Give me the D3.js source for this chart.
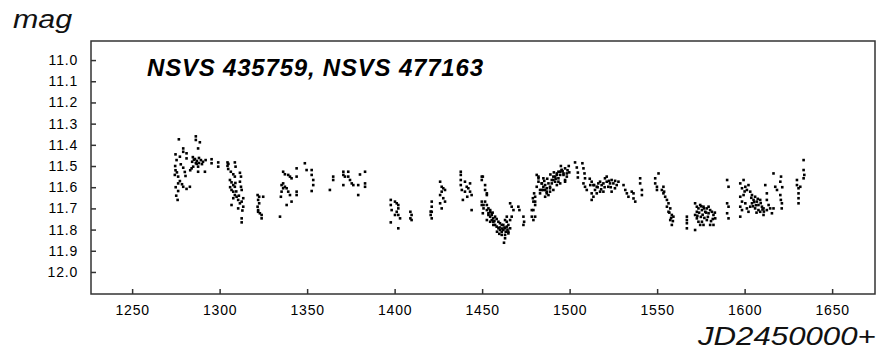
<!DOCTYPE html>
<html>
<head>
<meta charset="utf-8">
<script src="https://cdn.jsdelivr.net/npm/d3@7"></script>
<style>
	body { margin: 0; background: #fff; }
	svg { display: block; font-family: "Liberation Sans", Arial, sans-serif; }
</style>
</head>
<body>
<svg id="chart" width="883" height="356"></svg>
<script>

var title = "NSVS 435759, NSVS 477163";
var xLabel = "JD2450000+";
var yLabel = "mag";
var xTicks = [1250, 1300, 1350, 1400, 1450, 1500, 1550, 1600, 1650];
var yTicks = [11.0, 11.1, 11.2, 11.3, 11.4, 11.5, 11.6, 11.7, 11.8, 11.9, 12.0];

// [JD - 2450000, magnitude]
var obs = [
	[1276.7,11.374],[1286.4,11.360],[1286.4,11.377],[1288.7,11.388],[1279.2,11.417],[1279.2,11.433],[1287.7,11.417],
	[1274.8,11.445],[1277.3,11.456],[1275.4,11.472],[1281.1,11.440],[1281.1,11.464],[1284.7,11.458],[1285.9,11.467],
	[1287.0,11.476],[1288.2,11.486],[1289.3,11.472],[1286.4,11.486],[1288.2,11.462],[1289.9,11.491],[1292.0,11.472],
	[1295.4,11.468],[1295.4,11.487],[1299.2,11.483],[1299.2,11.503],[1277.8,11.492],[1279.2,11.508],[1280.1,11.528],
	[1280.5,11.547],[1274.4,11.542],[1276.3,11.550],[1277.3,11.571],[1276.3,11.582],[1278.5,11.586],[1279.2,11.598],
	[1281.1,11.608],[1283.0,11.598],[1276.3,11.618],[1276.0,11.660],[1284.0,11.511],[1284.9,11.503],[1287.7,11.503],
	[1287.7,11.527],[1291.6,11.527],[1274.6,11.500],[1274.8,11.520],[1275.6,11.530],[1285.3,11.470],[1286.9,11.490],
	[1284.3,11.480],[1290.5,11.480],[1283.2,11.520],[1274.9,11.600],[1275.2,11.640],

	[1304.5,11.483],[1304.5,11.499],[1304.9,11.514],[1306.4,11.527],[1307.8,11.539],[1308.7,11.550],[1308.7,11.483],
	[1309.1,11.503],[1311.6,11.532],[1312.2,11.550],[1305.9,11.566],[1306.8,11.577],[1307.8,11.590],[1308.7,11.598],
	[1311.6,11.574],[1312.2,11.598],[1312.6,11.613],[1306.8,11.613],[1307.8,11.621],[1308.7,11.637],[1307.8,11.652],
	[1309.7,11.645],[1310.6,11.660],[1311.6,11.676],[1312.6,11.668],[1313.5,11.692],[1310.6,11.700],[1312.6,11.747],
	[1312.6,11.766],[1306.8,11.684],[1313.5,11.652],[1305.0,11.490],[1306.0,11.600],[1309.5,11.620],[1311.0,11.640],
	[1313.0,11.710],[1309.0,11.580],

	[1321.7,11.637],[1322.6,11.645],[1324.9,11.645],[1322.0,11.660],[1322.6,11.676],[1321.7,11.692],[1322.0,11.708],
	[1323.0,11.723],[1324.0,11.731],[1324.0,11.747],[1322.0,11.716],

	[1336.3,11.527],[1337.3,11.539],[1339.2,11.542],[1340.2,11.550],[1341.1,11.558],[1344.0,11.511],[1344.0,11.550],
	[1335.4,11.590],[1336.3,11.605],[1337.3,11.598],[1338.3,11.605],[1339.2,11.621],[1340.2,11.637],[1341.1,11.668],
	[1335.4,11.621],[1335.0,11.645],[1338.3,11.684],[1334.5,11.739],[1344.0,11.621],[1344.0,11.637],[1336.3,11.582],
	[1348.7,11.487],[1349.7,11.519],[1352.6,11.519],[1352.6,11.542],[1353.5,11.566],[1353.5,11.590],[1352.6,11.618],

	[1364.9,11.550],[1364.9,11.566],[1363.0,11.613],[1370.7,11.527],[1370.7,11.542],[1370.7,11.590],[1373.5,11.527],
	[1373.5,11.550],[1374.5,11.566],[1375.5,11.582],[1376.4,11.590],[1379.2,11.590],[1379.2,11.637],[1383.1,11.527],
	[1383.1,11.582],[1383.1,11.598],[1371.6,11.550],[1380.2,11.540],

	[1397.8,11.660],[1397.8,11.684],[1398.3,11.708],[1397.8,11.766],[1400.2,11.668],[1401.2,11.676],[1402.1,11.684],
	[1402.1,11.700],[1401.2,11.716],[1402.1,11.731],[1403.1,11.747],[1402.1,11.794],[1400.2,11.731],[1409.0,11.716],
	[1409.7,11.731],[1409.7,11.755],[1409.0,11.747],

	[1420.6,11.715],[1421.2,11.668],[1421.2,11.692],[1421.2,11.716],[1420.6,11.731],[1421.2,11.747],[1426.0,11.574],
	[1426.9,11.598],[1427.8,11.605],[1428.8,11.613],[1426.9,11.621],[1426.0,11.637],[1427.8,11.652],[1428.8,11.668],
	[1426.0,11.676],[1426.9,11.700],

	[1437.8,11.527],[1437.8,11.542],[1437.8,11.566],[1437.8,11.590],[1438.4,11.613],[1439.0,11.660],[1440.2,11.574],
	[1441.2,11.598],[1442.1,11.605],[1443.1,11.621],[1444.0,11.637],[1441.5,11.645],[1443.1,11.582],[1444.0,11.708],
	[1440.2,11.621],

	[1450.4,11.550],[1451.7,11.590],[1451.7,11.613],[1452.7,11.637],[1449.8,11.684],[1450.8,11.700],[1450.4,11.723],
	[1451.7,11.668],[1452.7,11.684],[1453.6,11.700],[1454.6,11.716],[1455.5,11.731],[1456.4,11.747],[1456.4,11.778],
	[1454.6,11.763],[1452.7,11.755],[1453.6,11.731],[1449.8,11.550],[1449.8,11.566],[1452.7,11.629],[1449.8,11.668],
	[1450.8,11.684],[1452.7,11.708],[1453.6,11.723],[1454.6,11.739],[1455.5,11.755],[1456.4,11.763],[1457.4,11.778],
	[1458.3,11.786],[1459.3,11.794],[1460.2,11.802],[1461.2,11.810],[1462.1,11.802],[1463.1,11.794],[1464.1,11.786],
	[1465.0,11.778],[1466.0,11.755],[1466.9,11.739],[1466.0,11.676],[1466.9,11.692],[1467.9,11.708],[1464.1,11.739],
	[1463.1,11.755],[1465.0,11.810],[1463.1,11.825],[1462.5,11.862],[1461.2,11.778],[1459.3,11.763],[1457.4,11.739],
	[1455.5,11.723],[1454.6,11.708],[1460.2,11.770],[1462.1,11.778],[1464.1,11.763],[1466.0,11.794],[1465.0,11.818],
	[1463.1,11.841],[1461.2,11.825],[1458.3,11.750],[1460.0,11.790],[1461.5,11.795],[1463.5,11.810],[1464.5,11.800],
	[1462.8,11.790],[1459.8,11.820],[1457.0,11.760],[1456.0,11.720],[1458.5,11.810],[1470.7,11.692],[1471.3,11.708],
	[1473.6,11.739],[1474.0,11.763],[1473.6,11.778],

	[1478.4,11.708],[1478.4,11.739],[1479.3,11.755],[1479.0,11.652],[1479.7,11.629],[1480.3,11.668],[1481.2,11.598],
	[1482.2,11.574],[1482.2,11.550],[1483.1,11.613],[1484.1,11.582],[1485.0,11.558],[1486.0,11.590],[1486.9,11.605],
	[1487.9,11.582],[1488.8,11.598],[1489.8,11.566],[1490.7,11.550],[1491.7,11.574],[1492.7,11.542],[1493.6,11.558],
	[1494.6,11.527],[1495.5,11.519],[1496.5,11.542],[1497.4,11.511],[1498.4,11.535],[1497.4,11.566],[1493.6,11.574],
	[1490.7,11.613],[1486.9,11.621],[1485.0,11.613],[1488.8,11.621],[1479.3,11.668],[1480.3,11.684],[1479.3,11.708],
	[1480.3,11.739],[1480.3,11.645],[1483.1,11.629],[1484.1,11.613],[1481.2,11.542],[1482.2,11.558],[1484.1,11.582],
	[1485.0,11.598],[1486.0,11.613],[1486.9,11.629],[1487.9,11.637],[1486.0,11.645],[1488.8,11.605],[1489.8,11.582],
	[1490.7,11.566],[1491.7,11.550],[1492.7,11.535],[1493.6,11.527],[1494.6,11.542],[1495.5,11.519],[1496.5,11.535],
	[1497.4,11.574],[1498.4,11.550],[1494.6,11.582],[1492.7,11.590],[1485.5,11.570],[1487.2,11.560],[1489.0,11.540],
	[1491.0,11.530],[1492.0,11.560],[1495.0,11.500],[1496.0,11.525],[1498.8,11.520],[1499.5,11.500],[1499.8,11.530],

	[1503.1,11.483],[1504.1,11.507],[1504.7,11.531],[1504.7,11.554],[1507.3,11.487],[1507.9,11.511],[1508.5,11.535],
	[1508.8,11.558],[1507.9,11.582],[1508.8,11.598],[1509.8,11.613],

	[1512.6,11.574],[1513.6,11.590],[1514.5,11.613],[1515.5,11.598],[1516.4,11.582],[1517.4,11.574],[1518.3,11.590],
	[1519.3,11.582],[1520.2,11.558],[1521.2,11.550],[1521.2,11.574],[1522.1,11.598],[1523.1,11.582],[1524.0,11.566],
	[1525.0,11.582],[1525.9,11.605],[1526.9,11.590],[1527.9,11.574],[1512.6,11.629],[1512.6,11.660],[1515.5,11.629],
	[1517.4,11.621],[1519.3,11.621],[1524.0,11.621],[1513.6,11.645],[1514.0,11.590],[1516.0,11.600],[1518.0,11.610],
	[1520.0,11.600],[1522.5,11.570],[1523.5,11.600],[1526.0,11.570],[1511.5,11.560],[1511.8,11.590],
	[1530.8,11.590],[1531.8,11.613],[1532.7,11.629],[1533.6,11.645],[1535.5,11.621],[1536.5,11.629],[1536.5,11.653],
	[1537.5,11.668],[1540.3,11.558],[1540.3,11.582],[1541.3,11.613],[1541.3,11.637],[1548.9,11.558],[1548.9,11.582],
	[1549.9,11.613],[1549.9,11.598],[1550.8,11.535],

	[1552.7,11.613],[1553.6,11.629],[1554.6,11.645],[1555.6,11.660],[1556.5,11.676],[1555.6,11.692],[1557.5,11.700],
	[1556.5,11.716],[1558.4,11.731],[1559.3,11.739],[1557.5,11.755],[1558.4,11.778],[1553.6,11.598],[1554.0,11.621],
	[1557.0,11.720],[1559.0,11.760],[1558.0,11.745],[1567.0,11.739],[1567.0,11.755],[1567.0,11.770],[1567.0,11.794],

	[1571.7,11.676],[1572.7,11.692],[1573.6,11.700],[1574.6,11.684],[1575.6,11.708],[1576.5,11.692],[1577.5,11.716],
	[1578.4,11.700],[1579.4,11.723],[1580.3,11.708],[1581.3,11.716],[1582.2,11.731],[1583.2,11.747],[1571.7,11.731],
	[1572.7,11.747],[1573.6,11.763],[1574.6,11.778],[1576.5,11.778],[1578.4,11.755],[1580.3,11.778],[1582.2,11.778],
	[1571.7,11.802],[1575.6,11.763],[1579.4,11.692],[1572.7,11.716],[1574.0,11.720],[1575.0,11.740],[1576.0,11.730],
	[1577.0,11.745],[1578.0,11.720],[1579.0,11.740],[1580.8,11.760],[1573.0,11.735],[1576.8,11.700],[1581.8,11.750],
	[1583.0,11.720],[1575.2,11.690],

	[1590.0,11.566],[1590.8,11.598],[1590.0,11.676],[1590.8,11.692],[1590.0,11.723],[1590.8,11.747],

	[1597.5,11.582],[1598.5,11.605],[1599.4,11.566],[1600.4,11.598],[1601.3,11.613],[1602.2,11.590],[1603.2,11.621],
	[1604.2,11.637],[1605.1,11.660],[1606.0,11.645],[1607.0,11.668],[1607.9,11.684],[1608.9,11.660],[1609.9,11.692],
	[1610.8,11.700],[1599.4,11.637],[1597.5,11.645],[1598.5,11.668],[1597.5,11.692],[1598.5,11.708],[1597.5,11.739],
	[1600.4,11.676],[1601.3,11.700],[1602.2,11.716],[1603.2,11.692],[1604.2,11.676],[1606.0,11.700],[1607.9,11.708],
	[1608.9,11.716],[1610.8,11.731],[1611.8,11.590],[1612.7,11.629],[1612.7,11.660],[1613.7,11.684],[1612.7,11.708],
	[1614.6,11.700],[1615.6,11.723],[1616.5,11.535],[1617.5,11.598],[1618.5,11.613],[1620.4,11.574],[1620.4,11.637],
	[1620.7,11.660],[1621.3,11.676],[1616.5,11.700],[1605.5,11.670],[1606.5,11.685],[1607.5,11.655],[1604.8,11.690],
	[1603.8,11.650],[1609.2,11.675],[1610.2,11.705],[1606.8,11.720],[1611.0,11.715],[1600.0,11.620],[1620.8,11.550],
	[1621.5,11.600],[1621.2,11.700],
	[1629.9,11.566],[1629.9,11.590],[1630.8,11.605],[1630.8,11.629],[1630.8,11.652],[1630.8,11.676],[1631.8,11.598],
	[1633.7,11.472],[1633.7,11.519],[1634.1,11.542],[1633.7,11.558]
];

(function () {
	var svg = d3.select('#chart');
	var plotL = 91, plotR = 875, plotT = 41, plotB = 294;

	var x = d3.scaleLinear()
		.domain([1226.5, 1674.5])
		.range([plotL, plotR]);

	var y = d3.scaleLinear()
		.domain([10.91, 12.104])
		.range([plotT, plotB]);

	// frame
	svg.append('rect')
		.attr('x', plotL).attr('y', plotT)
		.attr('width', plotR - plotL).attr('height', plotB - plotT)
		.attr('fill', 'none')
		.attr('stroke', '#333')
		.attr('stroke-width', 1.5);

	var xAxis = svg.append('g')
		.attr('transform', 'translate(0,' + plotB + ')')
		.call(d3.axisBottom(x).tickValues(xTicks).tickSize(-5).tickSizeOuter(0).tickPadding(11)
			.tickFormat(d3.format('d')));

	var yAxis = svg.append('g')
		.attr('transform', 'translate(' + plotL + ',0)')
		.call(d3.axisLeft(y).tickValues(yTicks).tickSize(-5).tickSizeOuter(0).tickPadding(13)
			.tickFormat(d3.format('.1f')));

	[xAxis, yAxis].forEach(function (g) {
		g.select('.domain').remove();
		g.selectAll('line').attr('stroke', '#333').attr('stroke-width', 1.5);
		g.selectAll('text')
			.attr('fill', '#000')
			.style('font-size', '14px')
			.style('letter-spacing', '0.8px')
			.style('font-family', '"Liberation Sans", Arial, sans-serif');
	});

	svg.selectAll('rect.pt')
		.data(obs)
		.enter()
		.append('rect')
		.attr('class', 'pt')
		.attr('x', function (d) { return x(d[0]) - 1.3; })
		.attr('y', function (d) { return y(d[1]) - 1.3; })
		.attr('width', 2.6)
		.attr('height', 2.6)
		.attr('fill', '#000');

	svg.append('text')
		.attr('x', 147).attr('y', 76)
		.attr('textLength', 336).attr('lengthAdjust', 'spacing')
		.style('font-size', '24px').style('font-weight', 'bold').style('font-style', 'italic')
		.text(title);

	// axis names are drawn a bit wider than the font, as in the original
	svg.append('text')
		.attr('transform', 'translate(13,28) scale(1.17,1)')
		.style('font-size', '26px').style('font-style', 'italic')
		.attr('fill', '#111')
		.text(yLabel);

	svg.append('text')
		.attr('transform', 'translate(698,345) scale(1.2,1)')
		.style('font-size', '26px').style('font-style', 'italic')
		.attr('fill', '#111')
		.text(xLabel);
})();

</script>
</body>
</html>
